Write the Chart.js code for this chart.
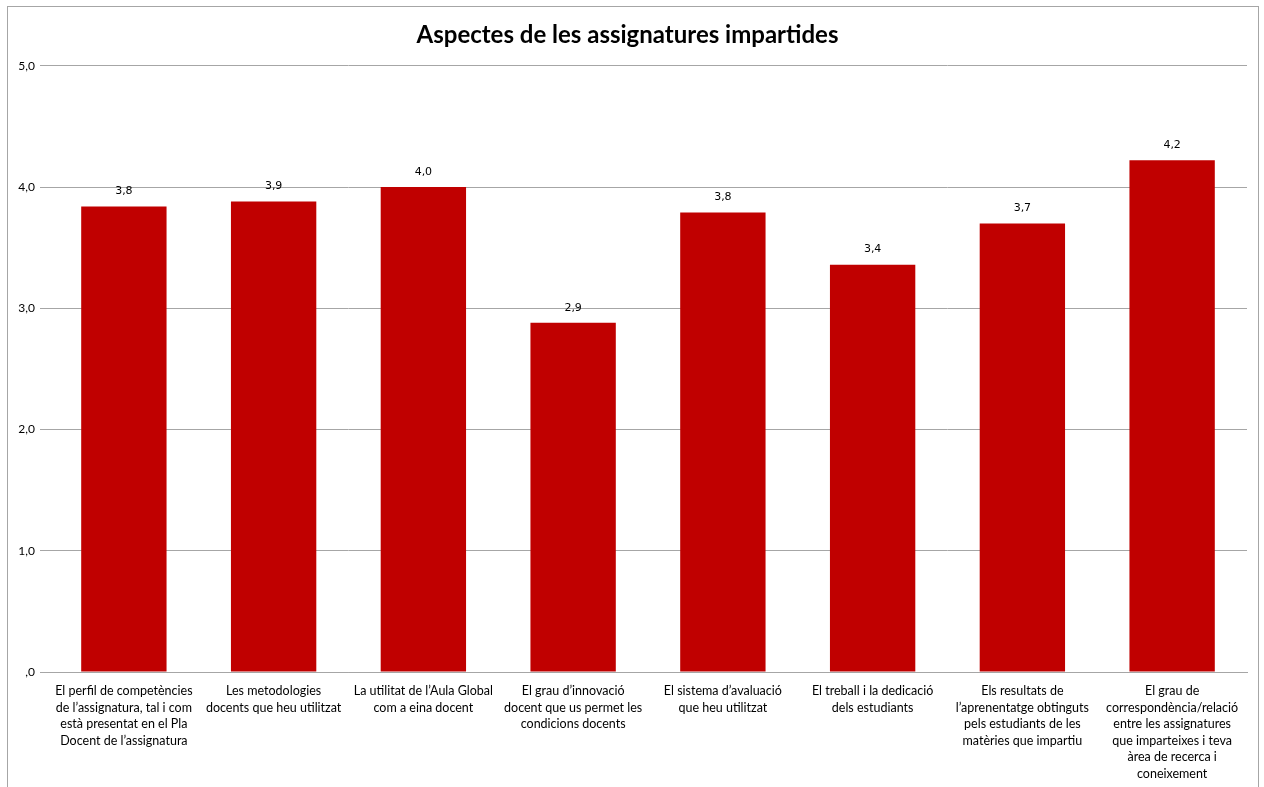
<!DOCTYPE html>
<html>
<head>
<meta charset="utf-8">
<script src="https://cdn.jsdelivr.net/npm/chart.js@4"></script>
<style>
  html, body { margin: 0; padding: 0; background: #fff; overflow: hidden; }
  #frame {
    position: absolute; left: 7px; top: 6px;
    width: 1250px; height: 800px;
    border: 1px solid #a6a6a6;
  }
</style>
</head>
<body>
<div id="frame"><canvas id="chart" width="1250" height="800"></canvas></div>
<script>
// Categories (one array of lines per bar)
const categories = [
  ['El perfil de competències', 'de l\u2019assignatura, tal i com', 'està presentat en el Pla', 'Docent de l\u2019assignatura'],
  ['Les metodologies', 'docents que heu utilitzat'],
  ['La utilitat de l\u2019Aula Global', 'com a eina docent'],
  ['El grau d\u2019innovació', 'docent que us permet les', 'condicions docents'],
  ['El sistema d\u2019avaluació', 'que heu utilitzat'],
  ['El treball i la dedicació', 'dels estudiants'],
  ['Els resultats de', 'l\u2019aprenentatge obtinguts', 'pels estudiants de les', 'matèries que impartiu'],
  ['El grau de', 'correspondència/relació', 'entre les assignatures', 'que imparteixes i teva', 'àrea de recerca i', 'coneixement']
];
const values = [3.84, 3.88, 4.0, 2.88, 3.79, 3.36, 3.70, 4.22];
const yTicks = [0, 1, 2, 3, 4, 5];

const fmt = v => v === 0 ? ',0' : v.toFixed(1).replace('.', ',');

// etiquetes de valor sobre cada barra
const valueLabels = {
  id: 'valueLabels',
  afterDatasetsDraw(chart) {
    const ctx = chart.ctx;
    const meta = chart.getDatasetMeta(0);
    ctx.save();
    ctx.font = '11px "DejaVu Sans"';
    ctx.fillStyle = '#000';
    ctx.textAlign = 'center';
    ctx.textBaseline = 'middle';
    meta.data.forEach((bar, i) => {
      ctx.fillText(fmt(values[i]), bar.x, bar.y - 15);
    });
    ctx.restore();
  }
};

new Chart(document.getElementById('chart').getContext('2d'), {
  type: 'bar',
  data: {
    labels: categories,
    datasets: [{
      data: values,
      backgroundColor: '#c00000',
      borderWidth: 0,
      barPercentage: 0.57,
      categoryPercentage: 1
    }]
  },
  options: {
    responsive: false,
    animation: false,
    layout: { padding: { left: 0, right: 11, top: 0, bottom: 0 } },
    plugins: {
      legend: { display: false },
      tooltip: { enabled: false },
      title: {
        display: true,
        text: 'Aspectes de les assignatures impartides',
        color: '#000',
        font: { family: 'Lato', size: 24, weight: 'bold' },
        padding: { top: 14, bottom: 16 }
      }
    },
    scales: {
      x: {
        grid: { display: false, drawTicks: false },
        border: { display: true, color: '#a6a6a6' },
        ticks: {
          color: '#000',
          maxRotation: 0,
          autoSkip: false,
          padding: 11,
          font: { family: 'Lato', size: 12.5, lineHeight: 1.32 }
        },
        afterFit(scale) { scale.height = 135; }
      },
      y: {
        min: 0,
        max: 5,
        afterBuildTicks(scale) { scale.ticks = yTicks.map(v => ({ value: v })); },
        grid: { color: '#a6a6a6', drawTicks: true, tickLength: 9 },
        border: { display: false },
        ticks: {
          color: '#000',
          padding: 5,
          font: { family: 'Lato', size: 12 },
          callback: v => fmt(v)
        },
        afterFit(scale) { scale.width = 41; }
      }
    }
  },
  plugins: [valueLabels]
});
</script>
</body>
</html>
